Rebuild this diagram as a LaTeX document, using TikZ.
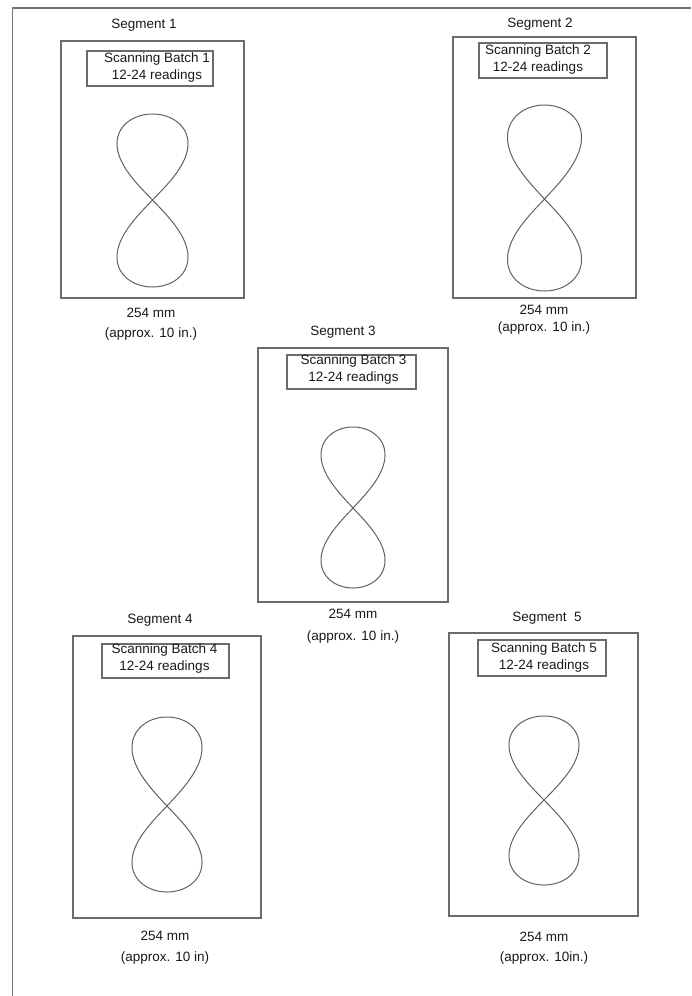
\documentclass[tikz,border=0pt]{standalone}
\usepackage{fontspec}
\setmainfont{Liberation Sans}
\begin{document}
\begin{tikzpicture}[x=1pt,y=-1pt,
  frameline/.style={draw=black!55,line width=1.8pt},
  segbox/.style={draw=black!58,line width=1.4pt},
  lblbox/.style={draw=black!58,line width=1.1pt},
  eight/.style={draw=black!62,line width=1pt,line join=round},
  txt/.style={inner sep=0pt,text=black!90,font=\fontsize{13.5}{17}\selectfont},
  lbltxt/.style={txt,align=center}]
\useasboundingbox (0,0) rectangle (691,996);
% outer frame (left and top edges)
\coordinate (fbl) at (12.5,996);
\coordinate (ftl) at (12.5,8);
\coordinate (ftr) at (691,8);
\draw[frameline] (fbl) -- (ftl) -- (ftr);

\newcommand{\eightcurve}[5]{% cx, cy (crossing), halfwidth, top height, bottom height
  \begin{scope}[shift={(#1,#2)},x=1pt,y=1pt]
    \pgfmathsetmacro{\eA}{#3/0.4225}
    \draw[eight] plot[domain=-90:90,samples=121,smooth]
      ({\eA*sin(\x)*cos(\x)/(1+0.4*sin(\x)*sin(\x))},{#4*cos(\x)/(1+0.4*sin(\x)*sin(\x))});
    \draw[eight] plot[domain=90:270,samples=121,smooth]
      ({\eA*sin(\x)*cos(\x)/(1+0.4*sin(\x)*sin(\x))},{#5*cos(\x)/(1+0.4*sin(\x)*sin(\x))});
  \end{scope}}

% ---------- Segment 1
\node[txt] (s1) at (144,25) {Segment 1};
\draw[segbox] (61,41) rectangle (244,298);
\draw[lblbox] (87,51) rectangle (213,86);
\node[lbltxt] (l1) at (157,67.5) {Scanning Batch 1\\12-24 readings};
\eightcurve{152.5}{200}{35.5}{86}{87}
\node[txt] (d1) at (151,313) {254 mm};
\node[txt] (a1) at (151,334) {(approx. 10 in.)};

% ---------- Segment 2
\node[txt] (s2) at (540,24) {Segment 2};
\draw[segbox] (453,37) rectangle (636,298);
\draw[lblbox] (479,43) rectangle (607,78);
\node[lbltxt] (l2) at (538,60) {Scanning Batch 2\\12-24 readings};
\eightcurve{544.5}{199}{37}{94}{92}
\node[txt] (d2) at (544,310) {254 mm};
\node[txt] (a2) at (544,328) {(approx. 10 in.)};

% ---------- Segment 3
\node[txt] (s3) at (343,332) {Segment 3};
\draw[segbox] (258,348) rectangle (448,602);
\draw[lblbox] (287,355) rectangle (416,389);
\node[lbltxt] (l3) at (353.5,370) {Scanning Batch 3\\12-24 readings};
\eightcurve{353}{508}{32}{81}{80}
\node[txt] (d3) at (353,614) {254 mm};
\node[txt] (a3) at (353,637) {(approx. 10 in.)};

% ---------- Segment 4
\node[txt] (s4) at (160,620) {Segment 4};
\draw[segbox] (73,636) rectangle (261,918);
\draw[lblbox] (102,644) rectangle (229,678);
\node[lbltxt] (l4) at (164.5,659) {Scanning Batch 4\\12-24 readings};
\eightcurve{167}{806}{35}{89}{86}
\node[txt] (d4) at (165,936) {254 mm};
\node[txt] (a4) at (165,958) {(approx. 10 in)};

% ---------- Segment 5
\node[txt] (s5) at (547,618) {Segment\ \ 5};
\draw[segbox] (449,633) rectangle (638,916);
\draw[lblbox] (478,640) rectangle (606,676);
\node[lbltxt] (l5) at (544,657.5) {Scanning Batch 5\\12-24 readings};
\eightcurve{544}{800}{35}{84}{85}
\node[txt] (d5) at (544,937) {254 mm};
\node[txt] (a5) at (544,958) {(approx. 10in.)};
\end{tikzpicture}
\end{document}
